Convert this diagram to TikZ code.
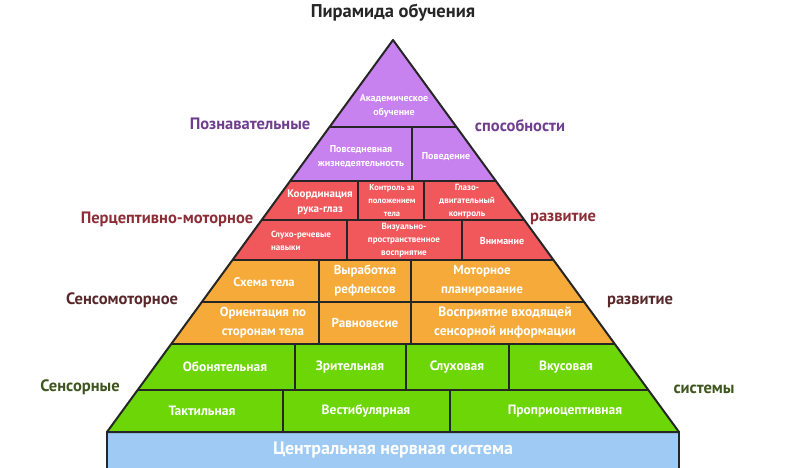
\documentclass[tikz,border=0pt]{standalone}
\usepackage{fontspec}
\setmainfont{PT Sans}
\usepackage{xcolor}
\usepackage{tikz}
\definecolor{cogpurple}{RGB}{200,130,240}
\definecolor{percred}{RGB}{240,88,92}
\definecolor{smorange}{RGB}{246,170,58}
\definecolor{sensgreen}{RGB}{108,214,6}
\definecolor{cnsblue}{RGB}{158,202,244}
\definecolor{cogtext}{RGB}{112,62,142}
\definecolor{perctext}{RGB}{140,46,56}
\definecolor{smtext}{RGB}{88,40,42}
\definecolor{senstext}{RGB}{62,86,30}

\begin{document}
\begin{tikzpicture}[x=1pt, y=-1pt,
    cell/.style={text=white, font=\bfseries, align=center, inner sep=0pt},
    side/.style={font=\bfseries\fontsize{16.5}{18}\selectfont, inner sep=0pt},
    edge/.style={line width=2pt, black!85}
]
\useasboundingbox (0,0) rectangle (800,468);

% Title
\node[font=\bfseries\fontsize{18.5}{20}\selectfont, black!85] (title) at (393,13) {Пирамида обучения};

% Base (blue bar)
\fill[cnsblue] (107,432) rectangle (679,470);
\draw[edge] (107,470) -- (107,432) -- (679,432) -- (679,470);

% Pyramid tiers
\begin{scope}
  \clip (393,40) -- (107,432) -- (679,432) -- cycle;
  \fill[cogpurple] (0,0) rectangle (800,181);
  \fill[percred] (0,181) rectangle (800,260);
  \fill[smorange] (0,260) rectangle (800,344);
  \fill[sensgreen] (0,344) rectangle (800,432);
  \foreach \y in {127,181,220,260,302,344,390}
    \draw[edge] (0,\y) -- (800,\y);
  % dividers
  \draw[edge] (412,127) -- (412,181);
  \draw[edge] (358,181) -- (358,220);
  \draw[edge] (424,181) -- (424,220);
  \draw[edge] (347,220) -- (347,260);
  \draw[edge] (462,220) -- (462,260);
  \draw[edge] (319,260) -- (319,344);
  \draw[edge] (411,260) -- (411,344);
  \draw[edge] (295,344) -- (295,390);
  \draw[edge] (406,344) -- (406,390);
  \draw[edge] (509,344) -- (509,390);
  \draw[edge] (283,390) -- (283,432);
  \draw[edge] (450,390) -- (450,432);
\end{scope}
\draw[edge, line join=round] (393,40) -- (107,432) -- (679,432) -- cycle;

% Cognitive
\node[cell, font=\bfseries\fontsize{10}{14}\selectfont] (academic) at (394,106) {Академическое\\обучение};
\node[cell, font=\bfseries\fontsize{10}{14}\selectfont] (daily) at (361,157) {Повседневная\\жизнедеятельность};
\node[cell, font=\bfseries\fontsize{10}{14}\selectfont] (behavior) at (446,157) {Поведение};

% Perceptual-motor
\node[cell, font=\bfseries\fontsize{11}{15}\selectfont] (eyehand) at (320,202) {Координация\\рука-глаз};
\node[cell, font=\bfseries\fontsize{8.5}{13}\selectfont] (posctrl) at (392,201) {Контроль за\\положением\\тела};
\node[cell, font=\bfseries\fontsize{9}{13}\selectfont] (eyectrl) at (467,201) {Глазо-\\двигательный\\контроль};
\node[cell, align=left, font=\bfseries\fontsize{9}{13}\selectfont] (speech) at (301,241) {Слухо-речевые\\навыки};
\node[cell, font=\bfseries\fontsize{9}{13}\selectfont] (visual) at (404,240) {Визуально-\\пространственное\\восприятие};
\node[cell, font=\bfseries\fontsize{10}{13}\selectfont] (attention) at (502,241) {Внимание};

% Sensorimotor
\node[cell, font=\bfseries\fontsize{12.5}{19}\selectfont] (bodyscheme) at (264,282) {Схема тела};
\node[cell, font=\bfseries\fontsize{13}{19}\selectfont] (reflex) at (365,281) {Выработка\\рефлексов};
\node[cell, font=\bfseries\fontsize{13}{19}\selectfont] (motorplan) at (482,281) {Моторное\\планирование};
\node[cell, font=\bfseries\fontsize{13}{19}\selectfont] (orient) at (263,323) {Ориентация по\\сторонам тела};
\node[cell, font=\bfseries\fontsize{13}{19}\selectfont] (balance) at (365,323) {Равновесие};
\node[cell, font=\bfseries\fontsize{13.5}{19}\selectfont] (sensinfo) at (505,323) {Восприятие входящей\\сенсорной информации};

% Sensory
\node[cell, font=\bfseries\fontsize{13.5}{16}\selectfont] (smell) at (225,367) {Обонятельная};
\node[cell, font=\bfseries\fontsize{13.5}{16}\selectfont] (vision) at (350,367) {Зрительная};
\node[cell, font=\bfseries\fontsize{13.5}{16}\selectfont] (hearing) at (457,367) {Слуховая};
\node[cell, font=\bfseries\fontsize{13.5}{16}\selectfont] (taste) at (566,367) {Вкусовая};
\node[cell, font=\bfseries\fontsize{13.5}{16}\selectfont] (touch) at (202,411) {Тактильная};
\node[cell, font=\bfseries\fontsize{13.5}{16}\selectfont] (vestib) at (366,411) {Вестибулярная};
\node[cell, font=\bfseries\fontsize{13.5}{16}\selectfont] (proprio) at (565,411) {Проприоцептивная};

% Base
\node[cell, font=\bfseries\fontsize{18}{20}\selectfont] (cns) at (393,450) {Центральная нервная система};

% Side labels
\node[side, cogtext] (cogL) at (250,124) {Познавательные};
\node[side, cogtext] (cogR) at (520,126) {способности};
\node[side, perctext] (percL) at (167,219) {Перцептивно-моторное};
\node[side, perctext] (percR) at (563,219) {развитие};
\node[side, smtext] (smL) at (122,300) {Сенсомоторное};
\node[side, smtext] (smR) at (640,302) {развитие};
\node[side, senstext] (sensL) at (80,387) {Сенсорные};
\node[side, senstext] (sensR) at (704,389) {системы};

\end{tikzpicture}
\end{document}
